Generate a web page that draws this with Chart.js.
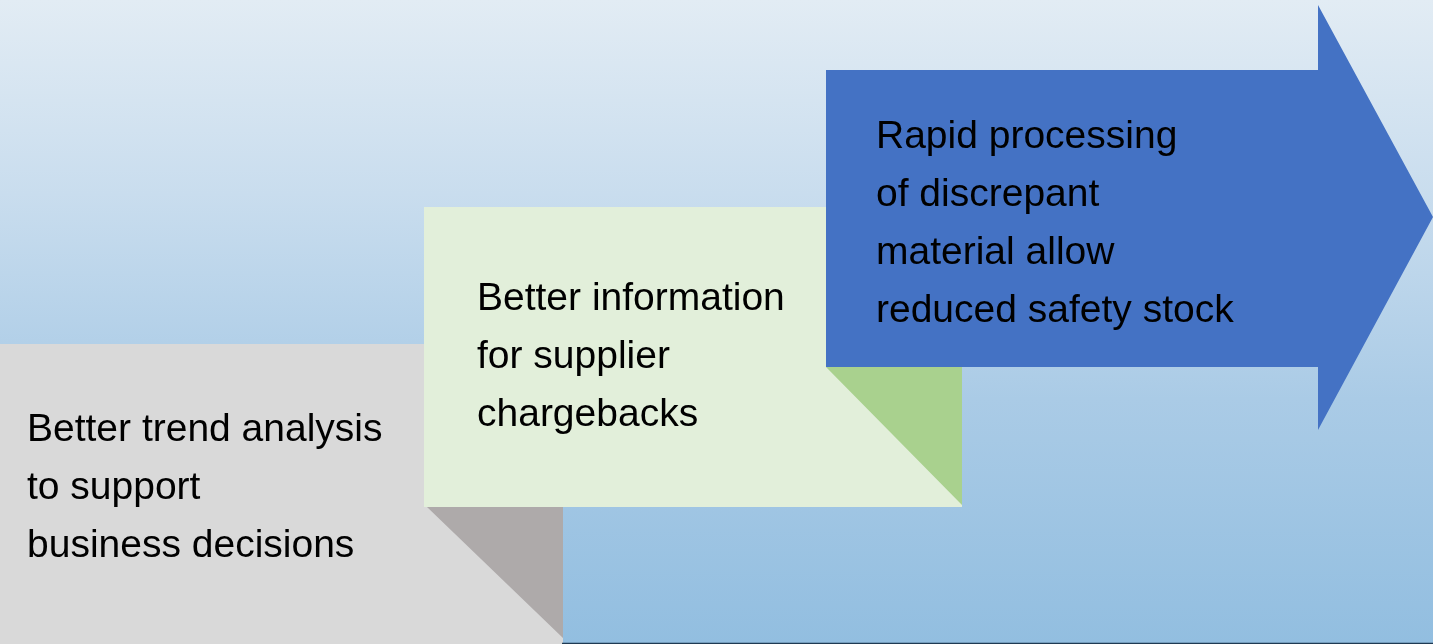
<!DOCTYPE html>
<html>
<head>
<meta charset="utf-8">
<script src="https://cdn.jsdelivr.net/npm/chart.js@4.4.1/dist/chart.umd.min.js"></script>
<style>
  html, body { margin: 0; padding: 0; overflow: hidden; }
  #wrap { position: relative; width: 1433px; height: 644px; }
  #chart { display: block; }
  .label {
    position: absolute;
    font-family: "Liberation Sans", Arial, sans-serif;
    font-size: 39px;
    line-height: 58px;
    color: #000;
    white-space: nowrap;
  }
</style>
</head>
<body>
<div id="wrap">
  <canvas id="chart" width="1433" height="644"></canvas>
</div>
<script>
// --- 圖形資料 (畫面座標，x: 0~1433, y: 0~644 由上往下) ---
const grayBox   = [[0, 344], [563, 344], [563, 644], [0, 644]];
const grayFold  = [[427, 507], [563, 507], [563, 638]];
const greenBox  = [[424, 207], [962, 207], [962, 507], [424, 507]];
const greenFold = [[826, 367], [962, 367], [962, 505]];
const blueArrow = [[826, 70], [1318, 70], [1318, 5], [1433, 217], [1318, 430], [1318, 367], [826, 367]];
const baseLine  = [[562, 643.5], [1433, 643.5]];

// 文字
const labelLines = [
  ["Better trend analysis", "to support", "business decisions"],
  ["Better information", "for supplier", "chargebacks"],
  ["Rapid processing", "of discrepant", "material allow", "reduced safety stock"]
];
// 文字左上角的位置
const labelAnchors = [[27, 399], [477, 268], [876, 106]];

const toPts = arr => arr.map(p => ({x: p[0], y: p[1]}));

function shape(pts, color, order) {
  return {
    data: toPts(pts),
    showLine: true,
    fill: 'shape',
    backgroundColor: color,
    borderColor: color,
    borderWidth: 0,
    pointRadius: 0,
    tension: 0,
    order: order
  };
}

// 背景漸層
const bgPlugin = {
  id: 'bg',
  beforeDraw(chart) {
    const {ctx, chartArea: a} = chart;
    const g = ctx.createLinearGradient(0, a.top, 0, a.bottom);
    g.addColorStop(0, '#e2ecf4');
    g.addColorStop(0.3, '#c9ddee');
    g.addColorStop(0.62, '#aacbe6');
    g.addColorStop(1, '#92bee0');
    ctx.save();
    ctx.fillStyle = g;
    ctx.fillRect(a.left, a.top, a.right - a.left, a.bottom - a.top);
    ctx.restore();
  }
};

const chart = new Chart(document.getElementById('chart'), {
  type: 'scatter',
  data: {
    datasets: [
      shape(grayBox, '#d9d9d9', 6),
      shape(grayFold, '#aeaaaa', 5),
      shape(greenBox, '#e2efda', 4),
      shape(greenFold, '#a9d18e', 3),
      shape(blueArrow, '#4472c4', 2),
      {
        data: toPts(baseLine),
        showLine: true,
        fill: false,
        borderColor: '#1f3a52',
        borderWidth: 1.5,
        pointRadius: 0,
        order: 1
      }
    ]
  },
  options: {
    responsive: false,
    animation: false,
    devicePixelRatio: 1,
    layout: { padding: 0 },
    scales: {
      x: { type: 'linear', display: false, min: 0, max: 1433 },
      y: { type: 'linear', display: false, min: 0, max: 644, reverse: true }
    },
    plugins: {
      legend: { display: false },
      tooltip: { enabled: false }
    }
  },
  plugins: [bgPlugin]
});

// 放上文字 (用圖表的座標軸換算位置)
const wrap = document.getElementById('wrap');
labelLines.forEach((lines, i) => {
  const div = document.createElement('div');
  div.className = 'label';
  div.style.left = chart.scales.x.getPixelForValue(labelAnchors[i][0]) + 'px';
  div.style.top = chart.scales.y.getPixelForValue(labelAnchors[i][1]) + 'px';
  div.innerHTML = lines.join('<br>');
  wrap.appendChild(div);
});
</script>
</body>
</html>
